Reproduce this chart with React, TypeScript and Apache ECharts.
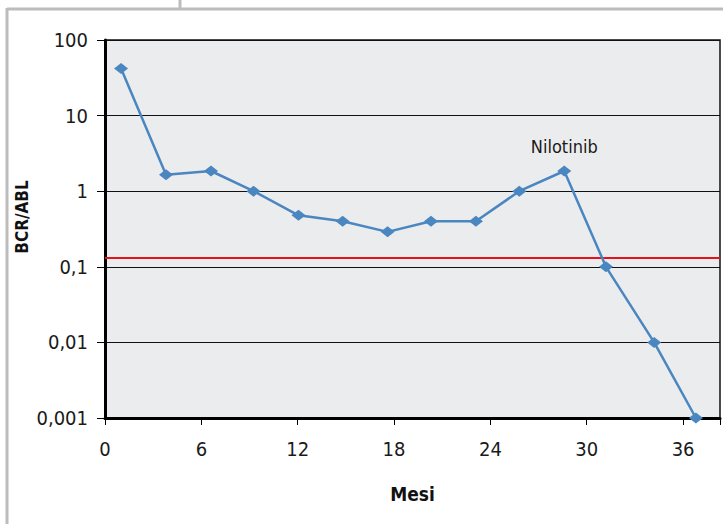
import React, { useEffect, useRef } from "react";
import * as echarts from "echarts";

const months = [1, 3.8, 6.6, 9.25, 12.05, 14.8, 17.6, 20.3, 23.1, 25.8, 28.6, 31.2, 34.2, 36.8];
const bcrAbl = [42, 1.65, 1.85, 1, 0.48, 0.4, 0.29, 0.4, 0.4, 1, 1.85, 0.1, 0.01, 0.001];
const yTickLabels = ["0,001", "0,01", "0,1", "1", "10", "100"];
const threshold = 0.125;
const annotationIndex = 10;
const annotationText = "Nilotinib";
const yAxisTitle = "BCR/ABL";
const xAxisTitle = "Mesi";

const FONT = "'Liberation Sans Narrow', 'DejaVu Sans Condensed', sans-serif";

export default function App() {
  const ref = useRef<HTMLDivElement>(null);
  useEffect(() => {
    if (!ref.current) return;
    const chart = echarts.init(ref.current, null, { renderer: "svg" });
    const data = months.map((m, i) => {
      const item: any = { value: [m, bcrAbl[i]] };
      if (i === annotationIndex) {
        item.label = {
          show: true,
          position: "top",
          distance: 10,
          formatter: annotationText,
          fontFamily: FONT,
          fontSize: 18,
          color: "#1a1a1a",
        };
      }
      return item;
    });
    chart.setOption({
      animation: false,
      backgroundColor: "#ffffff",
      textStyle: { fontFamily: FONT },
      grid: { left: 105, top: 40, right: 2, bottom: 106, show: true, backgroundColor: "#ebecee", borderColor: "#111", borderWidth: 1.5 },
      graphic: [
        { type: "line", shape: { x1: 7, y1: 8, x2: 7, y2: 524 }, style: { stroke: "#bcbcbc", lineWidth: 3 } },
        { type: "line", shape: { x1: 7, y1: 9, x2: 723, y2: 9 }, style: { stroke: "#bcbcbc", lineWidth: 3 } },
        { type: "line", shape: { x1: 180, y1: 0, x2: 180, y2: 9 }, style: { stroke: "#bcbcbc", lineWidth: 3 } },
        {
          type: "text",
          x: 22,
          y: 217,
          rotation: Math.PI / 2,
          style: {
            text: yAxisTitle,
            fontFamily: FONT,
            fontSize: 17,
            fontWeight: "bold",
            fill: "#111",
            align: "center",
            verticalAlign: "middle",
          },
        },
      ],
      xAxis: {
        type: "value",
        min: 0,
        max: 38.3,
        interval: 6,
        name: xAxisTitle,
        nameLocation: "middle",
        nameGap: 66,
        nameTextStyle: { fontFamily: FONT, fontSize: 19, fontWeight: "bold", color: "#111" },
        axisLine: { show: true, onZero: false, lineStyle: { color: "#000", width: 3 } },
        axisTick: { show: true, length: 7, lineStyle: { color: "#000", width: 1 } },
        axisLabel: {
          margin: 21,
          fontFamily: FONT,
          fontSize: 20,
          color: "#1a1a1a",
          formatter: (v: number) => (Math.abs(v % 6) < 1e-6 ? String(v) : ""),
        },
        splitLine: { show: false },
      },
      yAxis: {
        type: "log",
        logBase: 10,
        min: 0.001,
        max: 100,
        axisLine: { show: true, lineStyle: { color: "#000", width: 3 } },
        axisTick: { show: true, length: 8, lineStyle: { color: "#000", width: 1 } },
        axisLabel: {
          margin: 17,
          fontFamily: FONT,
          fontSize: 20,
          color: "#1a1a1a",
          formatter: (v: number) => yTickLabels[Math.round(Math.log10(v)) + 3] ?? "",
        },
        splitLine: { show: true, lineStyle: { color: "#111", width: 1 } },
      },
      series: [
        {
          type: "line",
          data,
          symbol: "diamond",
          symbolSize: [14, 11],
          lineStyle: { color: "#4a86c0", width: 2.5 },
          itemStyle: { color: "#4a86c0" },
          z: 3,
          markLine: {
            silent: true,
            symbol: "none",
            label: { show: false },
            lineStyle: { color: "#e8101a", width: 2, type: "solid" },
            data: [{ yAxis: threshold }],
            z: 2,
          },
        },
      ],
    });
    return () => chart.dispose();
  }, []);
  return <div ref={ref} style={{ position: "fixed", left: 0, top: 0, width: 723, height: 524 }} />;
}
